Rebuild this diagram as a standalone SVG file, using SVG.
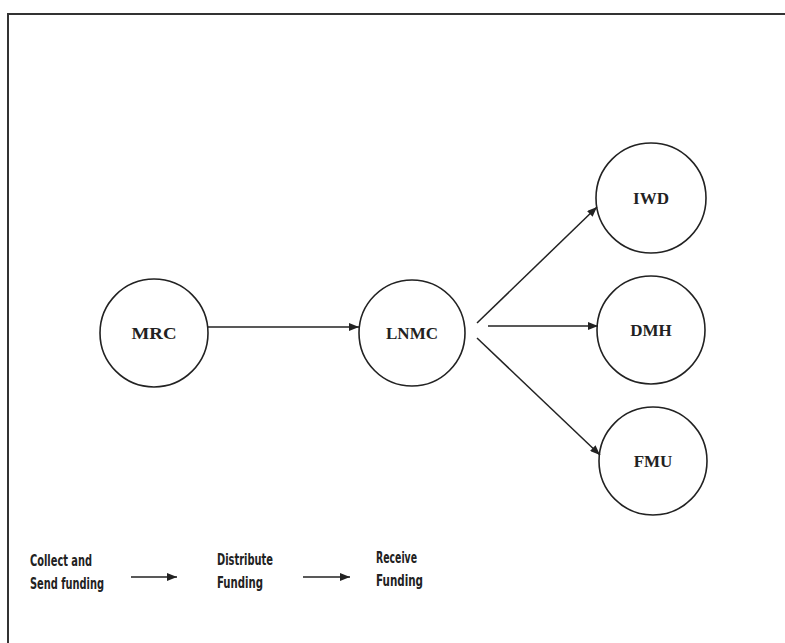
<svg xmlns="http://www.w3.org/2000/svg" width="785" height="643" viewBox="0 0 785 643">
<style>
.node circle{fill:none;stroke:#222;stroke-width:1.6}
.node text{font-family:"Liberation Serif",serif;font-weight:bold;font-size:17px;fill:#222;text-anchor:middle}
.conn line{stroke:#222;stroke-width:1.5}
.lbl{font-family:"DejaVu Sans","Liberation Sans",sans-serif;font-weight:bold;font-size:15px;fill:#222;font-stretch:condensed}
</style>
<defs>
<marker id="ah" markerWidth="10" markerHeight="8" refX="10" refY="4" orient="auto" markerUnits="userSpaceOnUse">
<path d="M0,0 L10,4 L0,8 Z" fill="#222"/>
</marker>
</defs>
<rect width="785" height="643" fill="#fff"/>
<path d="M8,643 L8,14 L785,14" fill="none" stroke="#333" stroke-width="2"/>
<g id="MRC" class="node"><circle cx="154" cy="333" r="54"/><text x="154" y="339" textLength="45" lengthAdjust="spacingAndGlyphs">MRC</text></g>
<g id="LNMC" class="node"><circle cx="412" cy="333" r="53"/><text x="412" y="339">LNMC</text></g>
<g id="IWD" class="node"><circle cx="651" cy="198" r="55"/><text x="651" y="204">IWD</text></g>
<g id="DMH" class="node"><circle cx="651" cy="330" r="54"/><text x="651" y="336">DMH</text></g>
<g id="FMU" class="node"><circle cx="653" cy="461" r="54"/><text x="653" y="467">FMU</text></g>
<g id="connectors" class="conn">
<line x1="208" y1="327" x2="359" y2="327" marker-end="url(#ah)"/>
<line x1="477" y1="323" x2="597" y2="207" marker-end="url(#ah)"/>
<line x1="488" y1="326" x2="598" y2="326" marker-end="url(#ah)"/>
<line x1="477" y1="338" x2="600" y2="455" marker-end="url(#ah)"/>
<line x1="131" y1="577" x2="177" y2="577" marker-end="url(#ah)"/>
<line x1="303" y1="577" x2="350" y2="577" marker-end="url(#ah)"/>
</g>
<g id="legend">
<text class="lbl" x="30" y="566" textLength="62" lengthAdjust="spacingAndGlyphs">Collect and</text>
<text class="lbl" x="30" y="589" textLength="74" lengthAdjust="spacingAndGlyphs">Send funding</text>
<text class="lbl" x="217" y="565" textLength="56" lengthAdjust="spacingAndGlyphs">Distribute</text>
<text class="lbl" x="217" y="588" textLength="46" lengthAdjust="spacingAndGlyphs">Funding</text>
<text class="lbl" x="376" y="563" textLength="41" lengthAdjust="spacingAndGlyphs">Receive</text>
<text class="lbl" x="376" y="586" textLength="47" lengthAdjust="spacingAndGlyphs">Funding</text>
</g>
</svg>
